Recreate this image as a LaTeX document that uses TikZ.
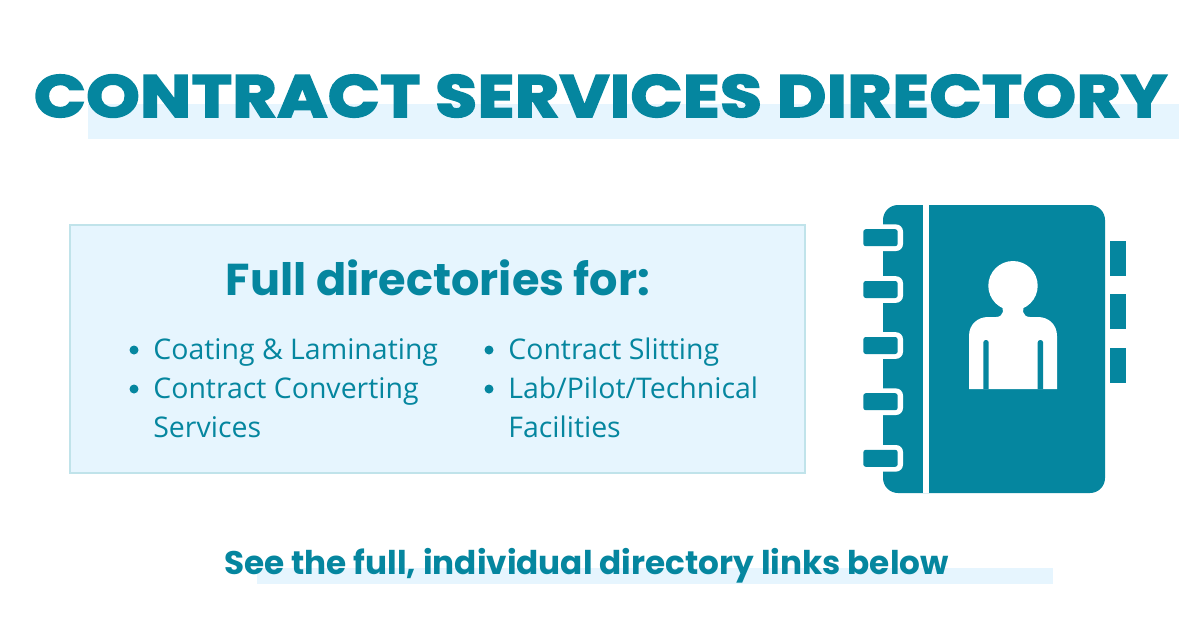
\documentclass[tikz,border=0pt]{standalone}
\usepackage{fontspec}
\setmainfont{Open Sans}
\newfontfamily\headfont[FakeBold=3.5,FakeStretch=1.15,LetterSpace=1.2]{Poppins Bold}
\newfontfamily\subfont{Poppins Bold}
\usetikzlibrary{positioning}
\definecolor{teal}{HTML}{05869F}
\definecolor{pale}{HTML}{E6F5FE}
\definecolor{edge}{HTML}{C0E3EA}
\tikzset{
  px/.style={x=0.02cm,y=-0.02cm},
  hilite/.style={fill=pale,draw=none},
  itemtext/.style={text=teal,anchor=base west,inner sep=0pt,font=\fontsize{16.2pt}{18pt}\selectfont},
  dot/.style={circle,fill=teal,minimum size=0.18cm,inner sep=0pt},
  tab/.style={fill=teal,rounded corners=0.05cm},
}
\begin{document}
\begin{tikzpicture}[px]
  \useasboundingbox (0,0) rectangle (1200,627);
  \fill[white] (0,0) rectangle (1200,627);

  \fill[hilite] (88,104) rectangle (1179,139);
  \fill[hilite] (257,568) rectangle (1053,584);
  \node[text=teal,inner sep=0pt,font=\headfont\fontsize{33.5pt}{36pt}\selectfont] (title) at (600.5,96) {CONTRACT SERVICES DIRECTORY};
  \node[text=teal,inner sep=0pt,font=\subfont\fontsize{18.6pt}{20pt}\selectfont] (footer) at (586.5,565.5) {See the full, individual directory links below};

  \node[fill=pale,draw=edge,line width=0.04cm,minimum width=14.70cm,minimum height=4.96cm,inner sep=0pt] (panel) at (437.5,349) {};
  \node[text=teal,inner sep=0pt,font=\subfont\fontsize{25.4pt}{28pt}\selectfont] (heading) at (438,277.5) {Full directories for:};

  \node[itemtext] (coating) at (153,359) {Coating \& Laminating};
  \node[itemtext] (converting) at (153,398) {Contract Converting};
  \node[itemtext] (services) at (153,437) {Services};
  \node[itemtext] (slitting) at (508,359) {Contract Slitting};
  \node[itemtext] (lab) at (508,398) {Lab/Pilot/Technical};
  \node[itemtext] (facilities) at (508,437) {Facilities};
  \node[dot] (dota) at (134,350) {};
  \node[dot] (dotb) at (134,389) {};
  \node[dot] (dotc) at (489,350) {};
  \node[dot] (dotd) at (489,389) {};

  \fill[teal,rounded corners=0.3cm] (883,205) rectangle (1105,493);
  \fill[white] (923.3,205) rectangle (928.7,493);
  \foreach \y in {237.7,289.5,345.5,401.7,458.3} {
    \fill[white] (860,\y-13.3) -- (896,\y-13.3) arc[start angle=90,end angle=0,radius=0.14cm] -- (903,\y+6.3) arc[start angle=0,end angle=-90,radius=0.14cm] -- (860,\y+13.3) -- cycle;
    \fill[tab] (863.3,\y-8.5) rectangle (897.7,\y+8.5);
  }
  \fill[white] (860,205) rectangle (883,224);
  \foreach \y in {240.7,294.3,348} {
    \fill[teal] (1110,\y) rectangle (1126,\y+35);
  }
  \fill[white] (1013,285.7) circle[radius=0.494cm];
  \fill[white] (969,389) -- (969,336) .. controls (969,324) and (978,317) .. (988,317) -- (996,317)
    .. controls (1004,317) and (1005,308) .. (1000,304) -- (1026,304)
    .. controls (1021,308) and (1022,317) .. (1030,317) -- (1038,317)
    .. controls (1048,317) and (1057,324) .. (1057,336) -- (1057,389) -- cycle;
  \foreach \x in {983.3,1037.7} {
    \fill[teal] (\x,389) [rounded corners=0.05cm] -- (\x,340) -- (\x+5.4,340) [sharp corners] -- (\x+5.4,389) -- cycle;
  }
\end{tikzpicture}
\end{document}
